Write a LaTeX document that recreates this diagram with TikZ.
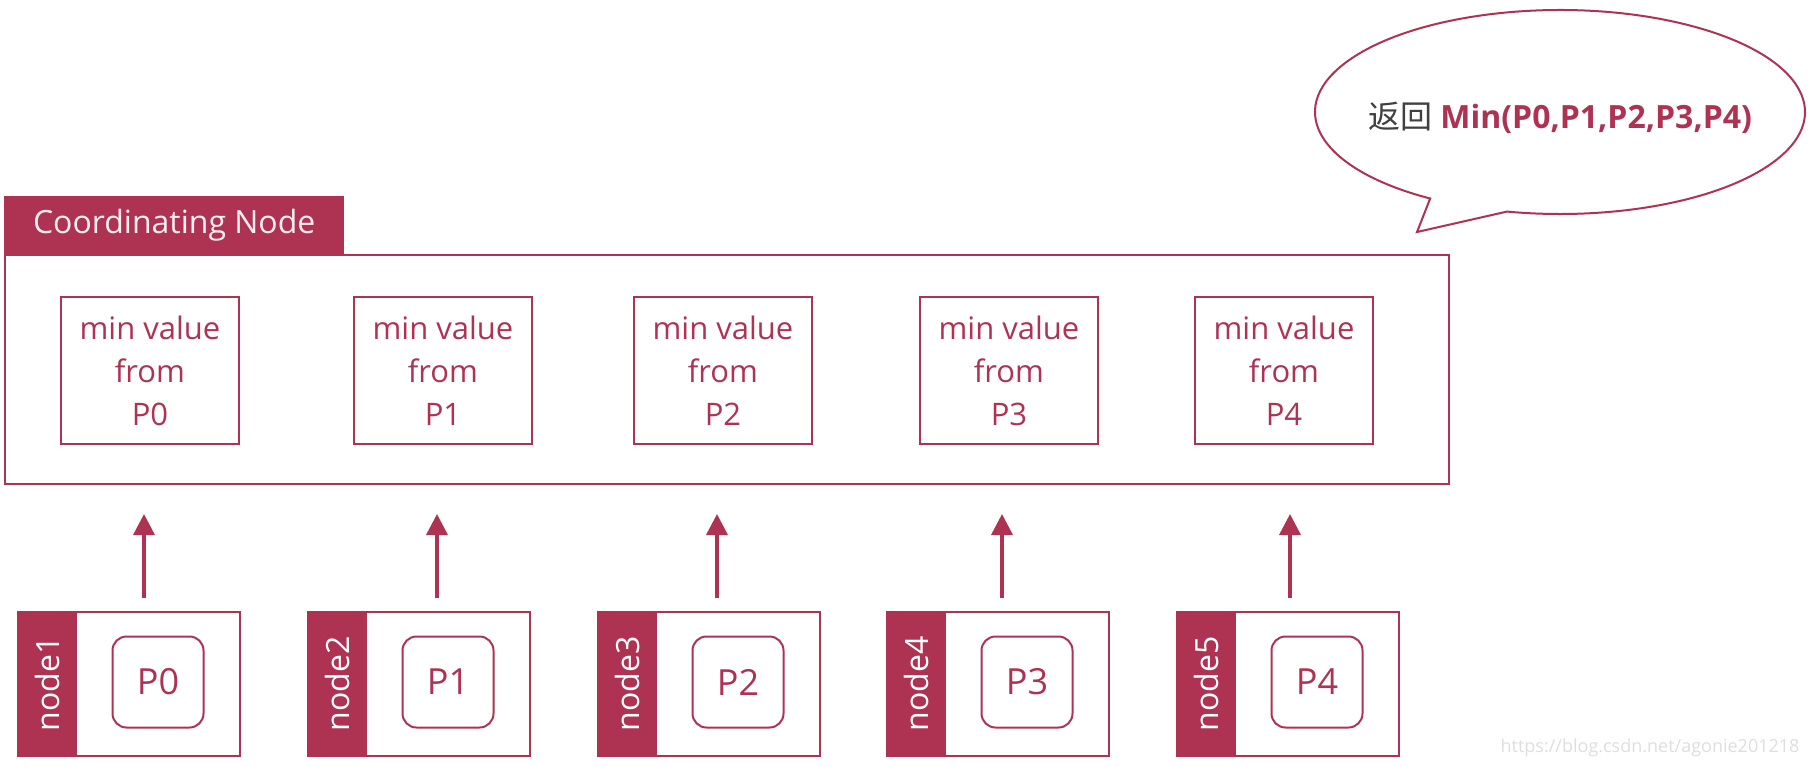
\documentclass[tikz,border=0pt]{standalone}
\usepackage{fontspec}
\setmainfont{Open Sans}
\newfontfamily\cjk{Noto Sans CJK SC}
\usetikzlibrary{arrows.meta}
\definecolor{crim}{HTML}{AE3352}

\begin{document}
\begin{tikzpicture}[x=1pt,y=-1pt,
    line/.style={draw=crim,line width=2pt},
    minbox/.style={line,minimum width=178pt,minimum height=147pt,align=center,
      text=crim,font=\fontsize{31}{43}\selectfont},
    hostbox/.style={line,minimum width=222pt,minimum height=144pt,anchor=north west},
    hosttag/.style={fill=crim,text=white,rotate=90,inner sep=0pt,
      minimum width=144pt,minimum height=60pt,font=\fontsize{32}{32}\selectfont},
    shard/.style={line,rounded corners=14pt,minimum size=91pt,text=crim,
      font=\fontsize{36}{36}\selectfont},
    arr/.style={draw=crim,line width=3.5pt,-{Triangle[width=21pt,length=21pt]}}]
  \useasboundingbox (0,0) rectangle (1812,766);

  % coordinating node
  \node[line,anchor=north west,minimum width=1444pt,minimum height=229pt] (big) at (4,254) {};
  \node[fill=crim,text=white!92!crim,anchor=south west,minimum width=340pt,minimum height=58pt,
    font=\fontsize{32}{32}\selectfont] (tab) at (big.north west) {Coordinating Node};

  \foreach \k/\i/\x/\l/\s in {1/0/150/17/-6,2/1/443/307/-6,3/2/723/597/-6,4/3/1009/886/-7,5/4/1284/1176/6}{
    \node[minbox] (m\k) at (\x,370.5) {min value\\from\\P\i};
    \node[hostbox] (h\k) at (\l,611) {};
    \node[hosttag] (t\k) at ([xshift=30pt]h\k.west) {node\k};
    \node[shard] (p\k) at ({\l+141},682) {P\i};
    \coordinate (a\k) at ([xshift=\s pt]m\k.south |- h\k.north);
    \coordinate (b\k) at ([xshift=\s pt]m\k.south |- big.south);
    \draw[arr] ([yshift=13pt]a\k) -- ([yshift=-29pt]b\k);
  }

  % callout
  \coordinate (bc) at (1560,112);
  \draw[line,fill=white] ([shift={(238:245pt and 102pt)}]bc)
    arc[start angle=238,end angle=-102.5,x radius=245pt,y radius=102pt]
    -- (1417,232) -- cycle;
  \node[font=\fontsize{32}{32}\selectfont] (ret) at (1560,118)
    {{\cjk\color{black!75}返回} \textcolor{crim}{\bfseries Min(P0,P1,P2,P3,P4)}};

  \node[anchor=south east,text=black!13,font=\fontsize{18}{18}\selectfont] (mark) at (1803,760)
    {https://blog.csdn.net/agonie201218};
\end{tikzpicture}
\end{document}
